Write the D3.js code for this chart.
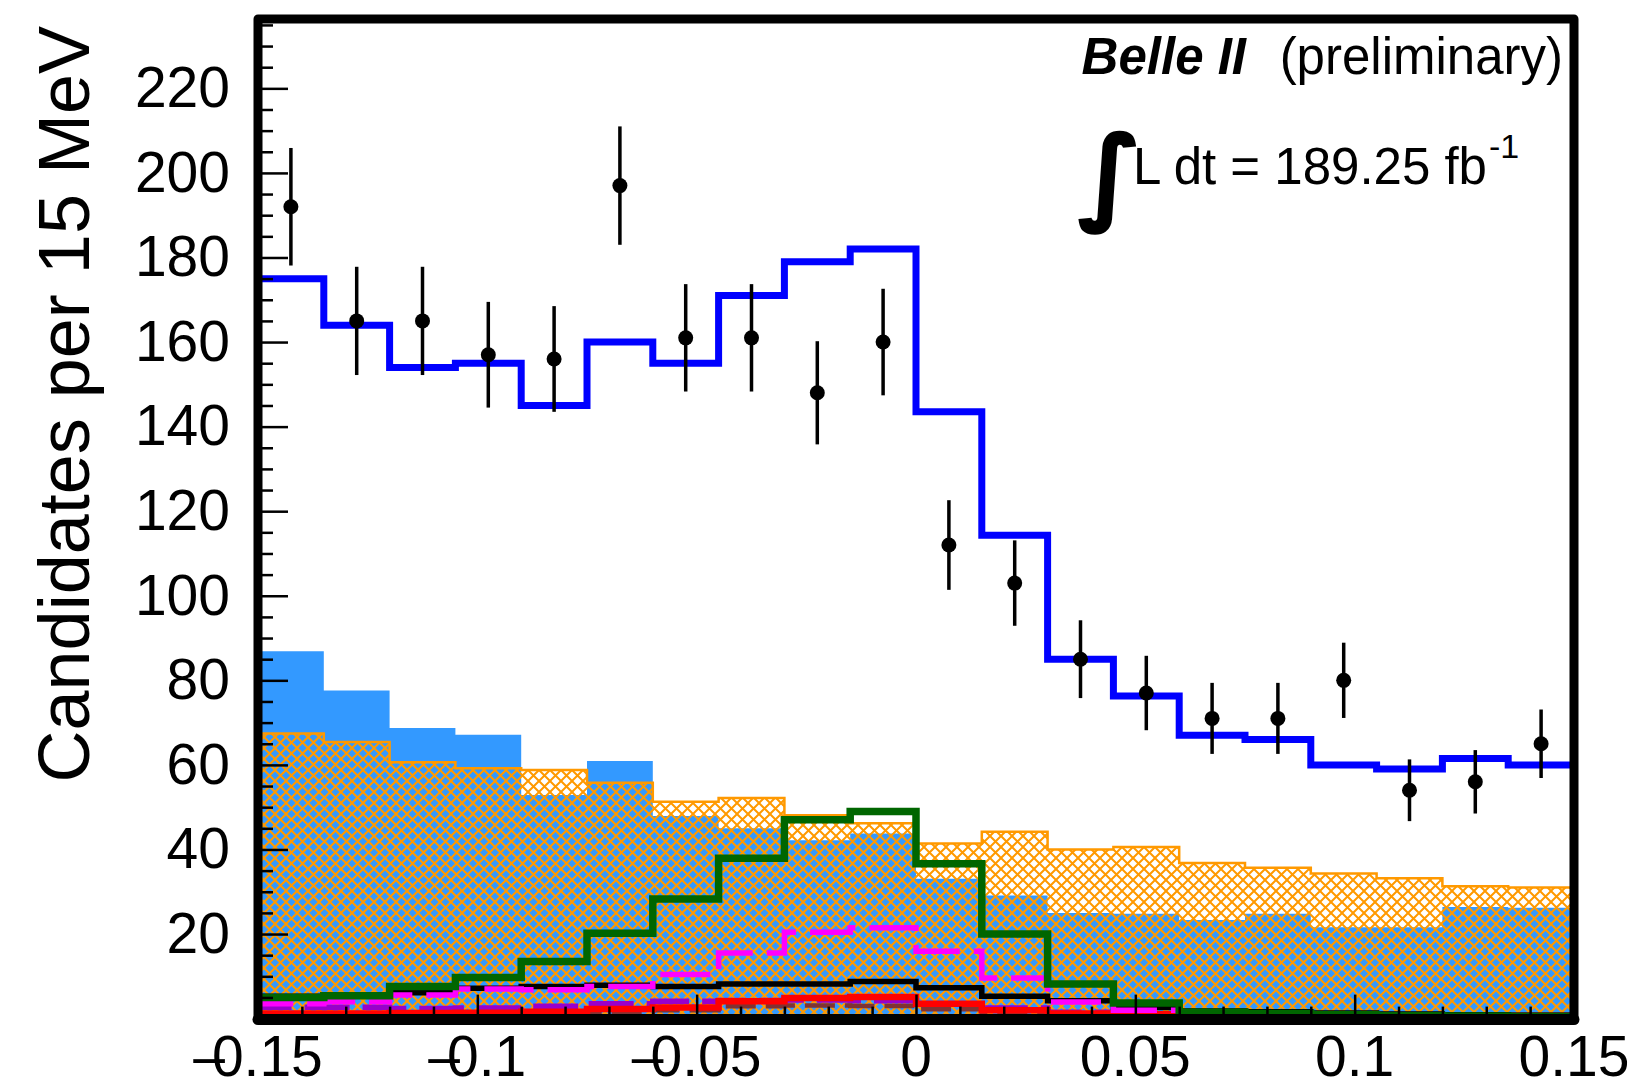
<!DOCTYPE html>
<html>
<head>
<meta charset="utf-8">
<script src="https://d3js.org/d3.v7.min.js"></script>
<style>
  body { margin: 0; background: #fff; }
  svg { display: block; font-family: "Liberation Sans", Arial, Helvetica, sans-serif; }
</style>
</head>
<body>
<div id="chart"></div>
<script>
// Histogram bin edges (20 bins of 15 MeV)
var binEdges = [-0.15, -0.135, -0.12, -0.105, -0.09, -0.075, -0.06, -0.045, -0.03, -0.015, 0,
                0.015, 0.03, 0.045, 0.06, 0.075, 0.09, 0.105, 0.12, 0.135, 0.15];
var binCenters = [-0.1425, -0.1275, -0.1125, -0.0975, -0.0825, -0.0675, -0.0525, -0.0375, -0.0225, -0.0075,
                  0.0075, 0.0225, 0.0375, 0.0525, 0.0675, 0.0825, 0.0975, 0.1125, 0.1275, 0.1425];

// data points and errors
var dataCounts = [192, 165, 165, 157, 156, 197, 161, 161, 148, 160, 112, 103, 85, 77, 71, 71, 80, 54, 56, 65];
var dataErrors = [13.9, 12.8, 12.8, 12.5, 12.5, 14.0, 12.7, 12.7, 12.2, 12.6, 10.6, 10.1, 9.2, 8.8, 8.4, 8.4, 8.9, 7.3, 7.5, 8.1];

// fit components
var totalFit   = [175, 164, 154, 155, 145, 160, 155, 171, 179, 182, 143.5, 114.3, 85, 76.3, 67, 66, 60, 59, 61.5, 60];
var blueFilled = [86.9, 77.6, 68.7, 67.1, 52.9, 60.9, 47.9, 45, 42.2, 43.8, 33.1, 29.1, 25, 24.8, 23.3, 24.8, 21.6, 21.6, 26.4, 26.2];
var orangeHatch = [67.4, 65.4, 60.6, 59.2, 58.8, 55.8, 51.3, 52.2, 48.1, 46.2, 41.4, 44.2, 40.0, 40.6, 36.8, 35.7, 34.3, 33.2, 31.3, 31];
var greenLine  = [5.0, 5.4, 7.6, 9.7, 13.5, 20.2, 28.3, 37.9, 47, 49, 36.6, 20, 8.2, 3.7, 1.5, 1.2, 0.9, 0.7, 0.6, 0.5];
var magentaLine = [3.5, 4.0, 5.6, 7.0, 6.8, 7.6, 10.4, 15.5, 20.4, 21.5, 15.9, 9.6, 3.9, 2.0, 1.0, 0.7, 0.5, 0.4, 0.3, 0.3];
var blackLine  = [5.3, 5.5, 6.1, 7.2, 7.6, 7.9, 7.6, 8.2, 8.2, 8.8, 7.3, 5.3, 4.2, 2.6, 1.8, 1.6, 1.3, 1.1, 0.9, 0.8];
var redLine    = [1.2, 1.2, 1.3, 1.4, 1.6, 2.3, 2.6, 4.1, 4.9, 5.1, 3.5, 2.0, 1.2, 1.0, 0.9, 0.8, 0.8, 0.7, 0.7, 0.7];
var purpleLine = [2.7, 2.7, 2.4, 2.5, 2.9, 3.5, 4.1, 4.3, 4.4, 4.2, 3.5, 2.5, 1.5, 1.0, 0.8, 0.6, 0.5, 0.4, 0.4, 0.3];
var brownLine  = [0.8, 0.8, 0.9, 1.0, 1.2, 1.5, 2.0, 2.9, 3.1, 3.0, 2.2, 1.3, 0.8, 0.5, 0.4, 0.3, 0.3, 0.3, 0.2, 0.2];

// axis ticks
var xMajorTicks = [-0.15, -0.1, -0.05, 0, 0.05, 0.1, 0.15];
var xTickLabels = ["-0.15", "-0.1", "-0.05", "0", "0.05", "0.1", "0.15"];
var yMajorTicks = [20, 40, 60, 80, 100, 120, 140, 160, 180, 200, 220];

var W = 1641, H = 1086;
var plot = {left: 258, right: 1574, top: 19, bottom: 1018.6};

var svg = d3.select("#chart").append("svg")
  .attr("width", W)
  .attr("height", H);

var x = d3.scaleLinear().domain([-0.15, 0.15]).range([plot.left, plot.right]);
var y = d3.scaleLinear().domain([0, 236.4]).range([plot.bottom, plot.top]);

var defs = svg.append("defs");
defs.append("clipPath").attr("id", "plotClip")
  .append("rect")
  .attr("x", plot.left).attr("y", plot.top)
  .attr("width", plot.right - plot.left).attr("height", plot.bottom - plot.top);

// orange cross hatch
var hatch = defs.append("pattern")
  .attr("id", "hatch")
  .attr("patternUnits", "userSpaceOnUse")
  .attr("width", 11).attr("height", 11);
hatch.append("path")
  .attr("d", "M-1,-1 L12,12 M-1,12 L12,-1")
  .attr("stroke", "#ff9900")
  .attr("stroke-width", 2);

// step outline helper: up from 0 at left edge, across bins, down to 0 at right edge
function stepPoints(vals) {
  var pts = [[x(binEdges[0]), y(0)]];
  vals.forEach(function(v, i) {
    pts.push([x(binEdges[i]), y(v)]);
    pts.push([x(binEdges[i + 1]), y(v)]);
  });
  pts.push([x(binEdges[binEdges.length - 1]), y(0)]);
  return pts;
}
var line = d3.line();

var g = svg.append("g").attr("clip-path", "url(#plotClip)");

// filled light blue
g.append("path")
  .attr("d", line(stepPoints(blueFilled)) + "Z")
  .attr("fill", "#3399ff");

// hatched orange
g.append("path")
  .attr("d", line(stepPoints(orangeHatch)) + "Z")
  .attr("fill", "url(#hatch)")
  .attr("stroke", "#ff9900")
  .attr("stroke-width", 2.5);

// line histograms
var lineHists = [
  {vals: purpleLine,  color: "#9900cc", width: 5.5, dash: "45 13"},
  {vals: brownLine,   color: "#803333", width: 4.5, dash: "30 10"},
  {vals: redLine,     color: "#ff0000", width: 6.5, dash: null},
  {vals: blackLine,   color: "#000000", width: 5.5, dash: null},
  {vals: magentaLine, color: "#ff00ff", width: 5.5, dash: "50 14"},
  {vals: greenLine,   color: "#006600", width: 7.5, dash: null},
  {vals: totalFit,    color: "#0000ff", width: 7, dash: null}
];
lineHists.forEach(function(h) {
  g.append("path")
    .attr("d", line(stepPoints(h.vals)))
    .attr("fill", "none")
    .attr("stroke", h.color)
    .attr("stroke-width", h.width)
    .attr("stroke-dasharray", h.dash);
});

// data points with error bars
var pts = svg.append("g").selectAll("g")
  .data(dataCounts)
  .join("g");
pts.append("line")
  .attr("x1", function(d, i) { return x(binCenters[i]); })
  .attr("x2", function(d, i) { return x(binCenters[i]); })
  .attr("y1", function(d, i) { return y(d - dataErrors[i]); })
  .attr("y2", function(d, i) { return y(d + dataErrors[i]); })
  .attr("stroke", "#000")
  .attr("stroke-width", 3.5);
pts.append("circle")
  .attr("cx", function(d, i) { return x(binCenters[i]); })
  .attr("cy", function(d) { return y(d); })
  .attr("r", 7.5)
  .attr("fill", "#000");

// frame
svg.append("rect")
  .attr("x", plot.left).attr("y", plot.top)
  .attr("width", plot.right - plot.left)
  .attr("height", plot.bottom - plot.top)
  .attr("fill", "none")
  .attr("stroke", "#000")
  .attr("stroke-width", 9)
  .attr("stroke-linejoin", "round");

// y axis (ticks pointing inward)
var yAxisG = svg.append("g")
  .attr("transform", "translate(" + plot.left + ",0)")
  .call(d3.axisLeft(y).tickValues(yMajorTicks).tickSize(-30).tickPadding(28).tickFormat(d3.format("d")))
  .call(function(a) { a.select(".domain").remove(); });
yAxisG.selectAll("line").attr("stroke-width", 2.5);
yAxisG.selectAll("text")
  .attr("font-size", 57)
  .attr("font-family", "'Liberation Sans', Arial, sans-serif")
  .attr("fill", "#000");

var yMinor = d3.range(5, 236, 5).filter(function(v) { return v % 20 !== 0; });
svg.append("g")
  .attr("transform", "translate(" + plot.left + ",0)")
  .call(d3.axisLeft(y).tickValues(yMinor).tickSize(-15).tickFormat(""))
  .call(function(a) { a.select(".domain").remove(); })
  .selectAll("line").attr("stroke-width", 2.5);

// x axis (ticks pointing up), labels drawn below
var xAxisG = svg.append("g")
  .attr("transform", "translate(0," + plot.bottom + ")")
  .call(d3.axisBottom(x).tickValues(xMajorTicks).tickSize(-24).tickFormat(""))
  .call(function(a) { a.select(".domain").remove(); });
xAxisG.selectAll("line").attr("stroke-width", 2.5);

// ROOT-style labels: the minus dash runs into the leading zero
var xLab = svg.append("g")
  .attr("font-size", 57)
  .attr("text-anchor", "middle")
  .selectAll("text")
  .data(xMajorTicks)
  .join("text")
  .attr("x", function(d) { return x(d); })
  .attr("y", 1076);
xLab.each(function(d, i) {
  var t = d3.select(this);
  var lab = xTickLabels[i];
  if (lab.charAt(0) === "-") {
    t.append("tspan").text("\u2013");
    t.append("tspan").attr("dx", -13).text(lab.slice(1));
  } else {
    t.text(lab);
  }
});

var xMinor = d3.range(-0.14, 0.15, 0.01).filter(function(v) { return Math.abs(Math.round(v * 100) % 5) !== 0; });
svg.append("g")
  .attr("transform", "translate(0," + plot.bottom + ")")
  .call(d3.axisBottom(x).tickValues(xMinor).tickSize(-12).tickFormat(""))
  .call(function(a) { a.select(".domain").remove(); })
  .selectAll("line").attr("stroke-width", 2.5);

// thicker bottom axis line
svg.append("line")
  .attr("x1", plot.left).attr("x2", plot.right)
  .attr("y1", plot.bottom + 1).attr("y2", plot.bottom + 1)
  .attr("stroke", "#000").attr("stroke-width", 11)
  .attr("stroke-linecap", "round");

// y title
svg.append("text")
  .attr("transform", "translate(89,26) rotate(-90)")
  .attr("text-anchor", "end")
  .attr("font-size", 72)
  .text("Candidates per 15 MeV");

// Belle II label
svg.append("text")
  .attr("x", 1246).attr("y", 74)
  .attr("text-anchor", "end")
  .attr("font-size", 51)
  .attr("font-weight", "bold")
  .attr("font-style", "italic")
  .text("Belle II");
svg.append("text")
  .attr("x", 1563).attr("y", 74)
  .attr("text-anchor", "end")
  .attr("font-size", 51)
  .text("(preliminary)");

// luminosity
svg.append("text")
  .attr("x", 1078).attr("y", 210)
  .attr("font-family", "'DejaVu Sans', sans-serif")
  .attr("font-weight", "bold")
  .attr("font-size", 104)
  .attr("stroke", "#000")
  .attr("stroke-width", 2)
  .text("\u222B");
var lumi = svg.append("text")
  .attr("x", 1133).attr("y", 184)
  .attr("font-size", 51);
lumi.append("tspan").text("L dt = 189.25 fb");
lumi.append("tspan")
  .attr("font-size", 34)
  .attr("dy", -26)
  .attr("dx", 2)
  .text("-1");
</script>
</body>
</html>
